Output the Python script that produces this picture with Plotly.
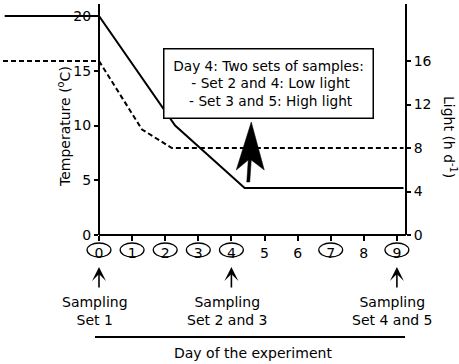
import plotly.graph_objects as go

# ---------------- data ----------------
temp_days = [-2.85, 0, 2.3, 4.4, 9.2]
temp_vals = [20, 20, 10, 4.3, 4.3]
light_days = [-2.9, 0, 1.3, 2.2, 9.2]
light_vals = [16, 16, 9.7, 8, 8]
day_ticks = list(range(10))
day_labels = [str(d) for d in day_ticks]
circled_days = [0, 1, 2, 3, 4, 7, 9]
temp_ticks = [0, 5, 10, 15, 20]
light_ticks = [0, 4, 8, 12, 16]
sampling_days = [0, 4, 9]
sampling_labels = ["Sampling<br>Set 1", "Sampling<br>Set 2 and 3", "Sampling<br>Set 4 and 5"]
box_lines = ["Day 4: Two sets of samples:", " - Set 2 and 4: Low light", " - Set 3 and 5: High light"]
arrow_day = 4.6

# ---------------- layout geometry ----------------
W, H = 459, 364
PLOT_TOP, PLOT_BOTTOM = 4, 235
PX_LEFT, PX_RIGHT = 3, 420
DAY0_PX, PX_PER_DAY = 99, 33.1
RIGHT_AXIS_DAY = 9.27
plot_h = PLOT_BOTTOM - PLOT_TOP

xmin = (PX_LEFT - DAY0_PX) / PX_PER_DAY
xmax = (PX_RIGHT - DAY0_PX) / PX_PER_DAY


def xpaper_day(d):
    return (DAY0_PX + d * PX_PER_DAY) / W


def ypaper(py):
    return (PLOT_BOTTOM - py) / plot_h


temp_top = 20 * plot_h / (PLOT_BOTTOM - 16)
light_top = 16 * plot_h / (PLOT_BOTTOM - 61)

FONT = "DejaVu Sans"
BLACK = "black"

fig = go.Figure()
fig.add_trace(go.Scatter(x=temp_days, y=temp_vals, mode="lines",
                         line=dict(color=BLACK, width=2), yaxis="y", showlegend=False))
fig.add_trace(go.Scatter(x=light_days, y=light_vals, mode="lines",
                         line=dict(color=BLACK, width=2, dash="5px,3px"), yaxis="y2", showlegend=False))

shapes = []
# bottom axis line (from day 0 to the right axis)
shapes.append(dict(type="line", xref="x", yref="paper", x0=0, x1=RIGHT_AXIS_DAY, y0=0, y1=0,
                   line=dict(color=BLACK, width=2)))
# ellipses around the circled days
for d in circled_days:
    shapes.append(dict(type="circle", xref="x", yref="paper", x0=d - 0.36, x1=d + 0.36,
                       y0=ypaper(257), y1=ypaper(243), line=dict(color=BLACK, width=1.3)))
# big arrow pointing to the box
shapes.append(dict(type="path", xref="x", yref="paper", xsizemode="pixel", ysizemode="pixel",
                   xanchor=arrow_day, yanchor=ypaper(122),
                   path="M 0 0 L 13 -48 L 0 -38 L -1.5 -60 L -4.5 -60 L -3 -38 L -15 -48 Z",
                   fillcolor=BLACK, line=dict(color=BLACK, width=0.5)))
# line above "Day of the experiment"
shapes.append(dict(type="line", xref="paper", yref="paper", x0=95 / W, x1=405 / W,
                   y0=ypaper(337), y1=ypaper(337), line=dict(color=BLACK, width=2)))

annotations = []
# small sampling arrows and labels
for d, lab in zip(sampling_days, sampling_labels):
    annotations.append(dict(x=d, xref="x", y=ypaper(267), yref="paper", text="", showarrow=True,
                            ax=0, ay=22, arrowhead=3, arrowsize=1.45, arrowwidth=1.6, arrowcolor=BLACK))
    annotations.append(dict(x=d, xref="x", xshift=-4, y=ypaper(311), yref="paper", text=lab,
                            showarrow=False, font=dict(family=FONT, size=14, color=BLACK),
                            align="center", xanchor="center", yanchor="middle"))
# text box
annotations.append(dict(x=268 / W, y=ypaper(85), xref="paper", yref="paper",
                        text="<br>".join(box_lines), showarrow=False, align="center",
                        font=dict(family=FONT, size=13.7, color=BLACK),
                        bordercolor=BLACK, borderwidth=1.5, borderpad=0, width=208, height=68,
                        bgcolor="white", xanchor="center", yanchor="middle", yshift=2))
# axis titles
annotations.append(dict(x=64 / W, y=ypaper(127), xref="paper", yref="paper",
                        text="Temperature (<sup>o</sup>C)", textangle=-90, showarrow=False,
                        font=dict(family=FONT, size=14, color=BLACK), xanchor="center", yanchor="middle"))
annotations.append(dict(x=450 / W, y=ypaper(137), xref="paper", yref="paper",
                        text="Light (h d<sup>-1</sup>)", textangle=90, showarrow=False,
                        font=dict(family=FONT, size=14, color=BLACK), xanchor="center", yanchor="middle"))
annotations.append(dict(x=253 / W, y=ypaper(353), xref="paper", yref="paper",
                        text="Day of the experiment", showarrow=False,
                        font=dict(family=FONT, size=14, color=BLACK), xanchor="center", yanchor="middle"))

fig.update_layout(
    width=W, height=H, template="none",
    margin=dict(l=0, r=0, t=PLOT_TOP, b=H - PLOT_BOTTOM, pad=0),
    paper_bgcolor="white", plot_bgcolor="white",
    showlegend=False,
    font=dict(family=FONT, size=14, color=BLACK),
    xaxis=dict(domain=[PX_LEFT / W, PX_RIGHT / W], range=[xmin, xmax], showline=False,
               showgrid=False, zeroline=False, ticks="outside", ticklen=5, tickwidth=1.5,
               tickcolor=BLACK, tickvals=day_ticks, ticktext=day_labels,
               tickfont=dict(family=FONT, size=14, color=BLACK), automargin=False),
    yaxis=dict(range=[0, temp_top], anchor="free", position=xpaper_day(0), side="left",
               showline=True, linewidth=2, linecolor=BLACK, showgrid=False, zeroline=False,
               ticks="outside", ticklen=4, tickwidth=1.5, tickcolor=BLACK, tickvals=temp_ticks,
               tickfont=dict(family=FONT, size=14, color=BLACK), automargin=False),
    yaxis2=dict(range=[0, light_top], anchor="free", overlaying="y", side="right",
                position=xpaper_day(RIGHT_AXIS_DAY),
                showline=True, linewidth=2, linecolor=BLACK, showgrid=False, zeroline=False,
                ticks="outside", ticklen=4, tickwidth=1.5, tickcolor=BLACK, tickvals=light_ticks,
                tickfont=dict(family=FONT, size=14, color=BLACK), automargin=False),
    shapes=shapes,
    annotations=annotations,
)

fig.write_html("out.html", config={"displayModeBar": False},
               post_script="document.body.style.margin='0';document.body.style.overflow='hidden';")
